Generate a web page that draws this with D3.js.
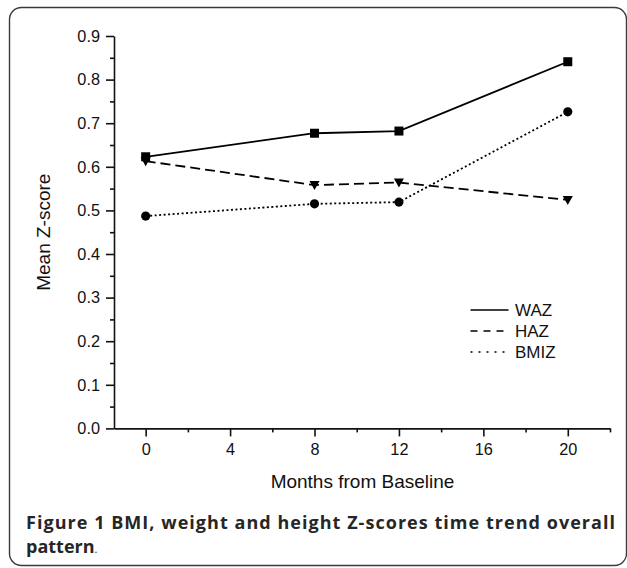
<!DOCTYPE html>
<html>
<head>
<meta charset="utf-8">
<script src="https://cdn.jsdelivr.net/npm/d3@7"></script>
<style>
  body { margin: 0; background: #fff; }
  svg { display: block; }
</style>
</head>
<body>
<div id="chart"></div>
<script>
// data
const months = [0, 8, 12, 20];
const waz  = [0.623, 0.677, 0.682, 0.841];
const haz  = [0.613, 0.558, 0.564, 0.524];
const bmiz = [0.487, 0.515, 0.519, 0.726];

const xMajor = [0, 4, 8, 12, 16, 20];
const xMinor = [2, 6, 10, 14, 18, 22];
const yMajor = [0, 0.1, 0.2, 0.3, 0.4, 0.5, 0.6, 0.7, 0.8, 0.9];
const yMinor = [0.05, 0.15, 0.25, 0.35, 0.45, 0.55, 0.65, 0.75, 0.85];

const seriesNames = ["WAZ", "HAZ", "BMIZ"];

// ----------------------------------------------------------

const width  = 627;
const height = 568;
const plot = { left: 114, right: 610, top: 36, bottom: 428.4 };
const font = "'Liberation Sans', Arial, sans-serif";

const svg = d3.select("#chart")
    .append("svg")
    .attr("width",  width)
    .attr("height", height)

// rounded frame around the whole figure
svg.append("rect")
    .attr("x", 9.5)
    .attr("y", 7.5)
    .attr("width", 617)
    .attr("height", 558)
    .attr("rx", 12)
    .attr("fill", "none")
    .attr("stroke", "#3a3a3a")
    .attr("stroke-width", 1.4)

var x = d3.scaleLinear().domain([-1.5, 22]).range([plot.left, plot.right])
var y = d3.scaleLinear().domain([0, 0.9]).range([plot.bottom, plot.top])

const axisGroup = svg.append("g").attr("id", "axisGroup")

axisGroup.append("g")
    .attr("transform", `translate(0, ${plot.bottom})`)
    .call(d3.axisBottom(x).tickValues(xMajor).tickSize(8).tickSizeOuter(0).tickPadding(7))
axisGroup.append("g")
    .attr("transform", `translate(0, ${plot.bottom})`)
    .call(d3.axisBottom(x).tickValues(xMinor).tickSize(4).tickSizeOuter(0).tickFormat(""))
    .call(g => g.select(".domain").remove())

axisGroup.append("g")
    .attr("transform", `translate(${plot.left}, 0)`)
    .call(d3.axisLeft(y).tickValues(yMajor).tickSize(8).tickSizeOuter(0).tickPadding(6).tickFormat(d3.format(".1f")))
axisGroup.append("g")
    .attr("transform", `translate(${plot.left}, 0)`)
    .call(d3.axisLeft(y).tickValues(yMinor).tickSize(4).tickSizeOuter(0).tickFormat(""))
    .call(g => g.select(".domain").remove())

axisGroup.selectAll("path, line")
    .attr("stroke", "#111")
    .attr("stroke-width", 1.6)
axisGroup.selectAll("text")
    .attr("font-family", font)
    .attr("font-size", 16.3)
    .attr("fill", "#111")

// axis titles
svg.append("text")
    .text("Months from Baseline")
    .attr("x", (x(-1.5) + x(22)) / 2 + 0.5)
    .attr("y", 488)
    .attr("text-anchor", "middle")
    .attr("font-family", font)
    .attr("font-size", 19)
    .attr("fill", "#111")

svg.append("text")
    .text("Mean Z-score")
    .attr("transform", `translate(50, ${(plot.top + plot.bottom) / 2}) rotate(-90)`)
    .attr("text-anchor", "middle")
    .attr("font-family", font)
    .attr("font-size", 19)
    .attr("fill", "#111")

// series
const series = [
    { name: seriesNames[0], values: waz,  dash: null,  legendDash: null,  marker: "square" },
    { name: seriesNames[1], values: haz,  dash: "10,5", legendDash: "7,6", marker: "triangle" },
    { name: seriesNames[2], values: bmiz, dash: "2,2.5", legendDash: "2,6", marker: "circle" }
];

const line = d3.line()
    .x(d => x(d.month))
    .y(d => y(d.value))

const elementGroup = svg.append("g").attr("id", "elementGroup")

series.forEach(s => {
    const pts = months.map((m, i) => ({ month: m, value: s.values[i] }))

    elementGroup.append("path")
        .datum(pts)
        .attr("d", line)
        .attr("fill", "none")
        .attr("stroke", "#000")
        .attr("stroke-width", 1.8)
        .attr("stroke-dasharray", s.dash)

    const marks = elementGroup.selectAll(null)
        .data(pts)
        .join("path")
        .attr("transform", d => `translate(${x(d.month)}, ${y(d.value)})`)
        .attr("fill", "#000")

    if (s.marker == "square") marks.attr("d", "M-4.5,-4.5H4.5V4.5H-4.5Z")
    if (s.marker == "circle") marks.attr("d", d3.symbol(d3.symbolCircle, 66))
    if (s.marker == "triangle") marks.attr("d", "M-5,-4L5,-4L0,5Z")
})

// legend
const legend = svg.append("g").attr("id", "legend")
const legendY = [310, 331, 352]
series.forEach((s, i) => {
    legend.append("line")
        .attr("x1", 470.5)
        .attr("x2", 508.5)
        .attr("y1", legendY[i])
        .attr("y2", legendY[i])
        .attr("stroke", "#000")
        .attr("stroke-width", 1.6)
        .attr("stroke-dasharray", s.legendDash)
    legend.append("text")
        .text(s.name)
        .attr("x", 515)
        .attr("y", legendY[i] + 6)
        .attr("font-family", font)
        .attr("font-size", 17)
        .attr("fill", "#111")
})

// caption, first line justified between the frame margins
const capFont = "'Open Sans', 'Noto Sans', sans-serif";
const capLeft = 26, capRight = 615;
const cap1 = svg.append("text")
    .attr("x", capLeft)
    .attr("y", 529)
    .attr("font-family", capFont)
    .attr("font-size", 18)
    .attr("font-weight", 700)
    .attr("fill", "#262626")
    .attr("textLength", capRight - capLeft)
    .attr("lengthAdjust", "spacing")
    .text("Figure 1 BMI, weight and height Z-scores time trend overall")

const cap2 = svg.append("text")
    .attr("x", capLeft)
    .attr("y", 553)
    .attr("font-family", capFont)
    .attr("font-size", 18)
    .attr("font-weight", 700)
    .attr("fill", "#262626")
cap2.append("tspan").text("pattern")
cap2.append("tspan").attr("font-weight", 400).attr("font-size", 11).text(".")
</script>
</body>
</html>
